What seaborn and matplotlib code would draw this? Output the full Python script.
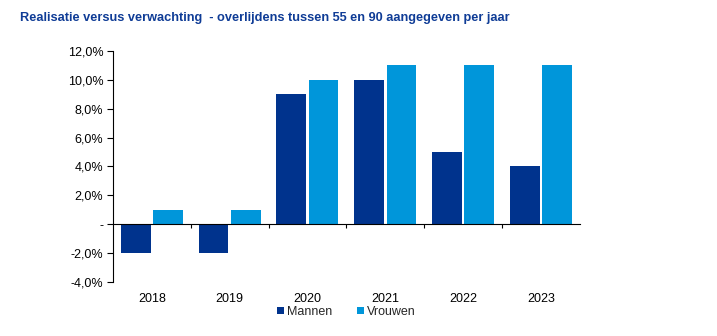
import matplotlib
matplotlib.use("Agg")
import matplotlib.pyplot as plt
import seaborn as sns
import pandas as pd
from matplotlib.ticker import FixedLocator, FuncFormatter

years = ["2018", "2019", "2020", "2021", "2022", "2023"]
mannen = [-2.0, -2.0, 9.0, 10.0, 5.0, 4.0]
vrouwen = [1.0, 1.0, 10.0, 11.0, 11.0, 11.0]
series = ["Mannen", "Vrouwen"]
colors = ["#00338D", "#0096DA"]

df = pd.DataFrame({
    "jaar": years * 2,
    "waarde": mannen + vrouwen,
    "geslacht": [series[0]] * len(years) + [series[1]] * len(years),
})

sns.set_theme(style="white")
plt.rcParams["font.family"] = ["Liberation Sans", "DejaVu Sans"]

fig = plt.figure(figsize=(7.17, 3.36), dpi=100)
ax = fig.add_axes([0.1576, 0.161, 0.651, 0.687])

sns.barplot(data=df, x="jaar", y="waarde", hue="geslacht", order=years,
            hue_order=series, palette=colors, width=0.83, gap=0.08,
            saturation=1, linewidth=0, ax=ax, legend=True)

ax.set_xlim(-0.5, len(years) - 0.5)
ax.set_ylim(-4, 12)
ax.set_yticks(range(-4, 13, 2))


def pct(v, _):
    if abs(v) < 1e-9:
        return "-"
    return f"{v:.1f}%".replace(".", ",")


ax.yaxis.set_major_formatter(FuncFormatter(pct))
ax.tick_params(axis="y", direction="out", length=4, width=0.8, color="black",
               labelsize=9, labelcolor="black", pad=3, left=True)

for s in ["top", "right"]:
    ax.spines[s].set_visible(False)
ax.spines["left"].set_color("black")
ax.spines["left"].set_linewidth(0.8)
# category axis line sits on the zero level
ax.spines["bottom"].set_position(("data", 0))
ax.spines["bottom"].set_color("black")
ax.spines["bottom"].set_linewidth(0.8)
ax.set_xticks([])
ax.xaxis.set_minor_locator(FixedLocator([i + 0.5 for i in range(len(years) - 1)]))
ax.tick_params(axis="x", which="minor", direction="out", length=3, width=0.8,
               color="black", bottom=True)

# year labels along the bottom of the plot area
sec = ax.secondary_xaxis(0.0)
sec.set_xticks(range(len(years)), labels=years)
sec.tick_params(length=0, labelsize=9, labelcolor="black", pad=8)
sec.spines["bottom"].set_visible(False)

ax.set_xlabel("")
ax.set_ylabel("")

handles, labels = ax.get_legend_handles_labels()
ax.legend_.remove()
fig.legend(handles, labels, loc="center", bbox_to_anchor=(0.483, 0.072),
           ncol=2, frameon=False, fontsize=9, handlelength=0.55,
           handleheight=0.55, handletextpad=0.25, columnspacing=2.0)

fig.text(0.028, 0.945, "Realisatie versus verwachting  - overlijdens tussen 55 en 90 aangegeven per jaar",
         fontsize=9.2, fontweight="bold", color="#0F3C96", ha="left", va="center")

fig.savefig("out.png", dpi=100)
